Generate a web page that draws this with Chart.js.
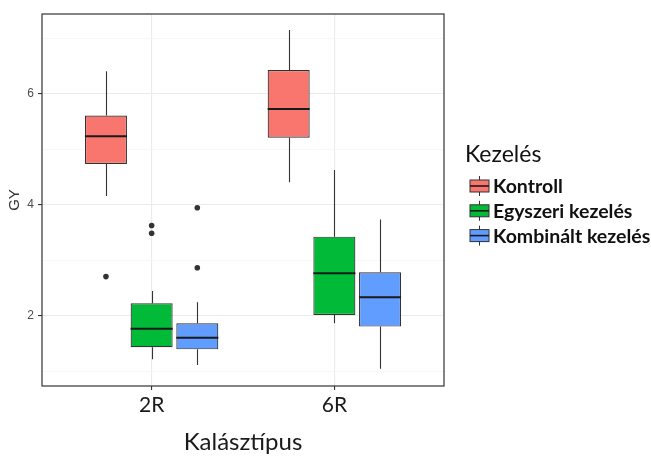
<!DOCTYPE html>
<html>
<head>
<meta charset="utf-8">
<script src="https://cdn.jsdelivr.net/npm/chart.js@4.4.0/dist/chart.umd.min.js"></script>
<style>
  html, body { margin: 0; padding: 0; background: #fff; }
  #wrap { width: 651px; height: 459px; }
</style>
</head>
<body>
<div id="wrap"><canvas id="chart" width="651" height="459"></canvas></div>
<script>
// categories and groups
var categories = ["2R", "6R"];
var groups = ["Kontroll", "Egyszeri kezelés", "Kombinált kezelés"];
var colors = ["#F8766D", "#00BA38", "#619CFF"];

// box statistics per group, one value per category
var kontrollMin = [4.16, 4.41];
var kontrollQ1 = [4.74, 5.21];
var kontrollMedian = [5.24, 5.73];
var kontrollQ3 = [5.61, 6.43];
var kontrollMax = [6.41, 7.15];
var kontrollOutliers = [[2.71], []];

var egyszeriMin = [1.22, 1.87];
var egyszeriQ1 = [1.44, 2.02];
var egyszeriMedian = [1.77, 2.77];
var egyszeriQ3 = [2.23, 3.43];
var egyszeriMax = [2.45, 4.63];
var egyszeriOutliers = [[3.63, 3.49], []];

var kombinaltMin = [1.12, 1.05];
var kombinaltQ1 = [1.40, 1.81];
var kombinaltMedian = [1.61, 2.34];
var kombinaltQ3 = [1.87, 2.79];
var kombinaltMax = [2.25, 3.74];
var kombinaltOutliers = [[3.95, 2.87], []];

// axis ticks
var majorTicks = [2, 4, 6];
var minorTicks = [1, 3, 5, 7];
var yMin = 0.74, yMax = 7.44;

var xTitle = "Kalásztípus";
var yTitle = "GY";
var legendTitle = "Kezelés";

var stats = [
    {min: kontrollMin, q1: kontrollQ1, med: kontrollMedian, q3: kontrollQ3, max: kontrollMax, out: kontrollOutliers},
    {min: egyszeriMin, q1: egyszeriQ1, med: egyszeriMedian, q3: egyszeriQ3, max: egyszeriMax, out: egyszeriOutliers},
    {min: kombinaltMin, q1: kombinaltQ1, med: kombinaltMedian, q3: kombinaltQ3, max: kombinaltMax, out: kombinaltOutliers}
];

var datasets = groups.map(function(g, i) {
    return {
        label: g,
        data: categories.map(function(c, j) {
            return {x: j + 1, y: [stats[i].q1[j], stats[i].q3[j]]};
        }),
        backgroundColor: colors[i],
        borderColor: "#333333",
        borderWidth: 1.2,
        borderSkipped: false,
        categoryPercentage: 0.75,
        barPercentage: 0.92
    };
});

// whiskers, medians, outliers, panel border
var boxExtras = {
    id: "boxExtras",
    beforeDatasetsDraw: function(chart) {
        var ctx = chart.ctx, y = chart.scales.y;
        ctx.save();
        ctx.strokeStyle = "#333333";
        ctx.lineWidth = 1.1;
        groups.forEach(function(g, i) {
            chart.getDatasetMeta(i).data.forEach(function(bar, j) {
                var x = Math.round(bar.x) + 0.5;
                ctx.beginPath();
                ctx.moveTo(x, y.getPixelForValue(stats[i].q3[j]));
                ctx.lineTo(x, y.getPixelForValue(stats[i].max[j]));
                ctx.moveTo(x, y.getPixelForValue(stats[i].q1[j]));
                ctx.lineTo(x, y.getPixelForValue(stats[i].min[j]));
                ctx.stroke();
            });
        });
        ctx.restore();
    },
    afterDatasetsDraw: function(chart) {
        var ctx = chart.ctx, y = chart.scales.y, a = chart.chartArea;
        ctx.save();
        groups.forEach(function(g, i) {
            chart.getDatasetMeta(i).data.forEach(function(bar, j) {
                var yy = y.getPixelForValue(stats[i].med[j]);
                ctx.strokeStyle = "#1a1a1a";
                ctx.lineWidth = 2;
                ctx.beginPath();
                ctx.moveTo(bar.x - bar.width / 2, yy);
                ctx.lineTo(bar.x + bar.width / 2, yy);
                ctx.stroke();
                ctx.fillStyle = "#333333";
                stats[i].out[j].forEach(function(v) {
                    ctx.beginPath();
                    ctx.arc(bar.x, y.getPixelForValue(v), 2.8, 0, Math.PI * 2);
                    ctx.fill();
                });
            });
        });
        ctx.strokeStyle = "#333333";
        ctx.lineWidth = 1.2;
        ctx.strokeRect(a.left, a.top, a.right - a.left, a.bottom - a.top);
        ctx.restore();
    },
    afterDraw: function(chart) {
        var ctx = chart.ctx, a = chart.chartArea;
        var lx = a.right + 21;
        ctx.save();
        ctx.fillStyle = "#111";
        ctx.textBaseline = "alphabetic";
        ctx.font = "23px Lato";
        ctx.fillText(legendTitle, lx, 162);
        groups.forEach(function(g, i) {
            var cy = 186 + i * 24.8;
            var kx = lx + 5, kw = 19;
            ctx.strokeStyle = "#333333";
            ctx.lineWidth = 1;
            ctx.beginPath();
            ctx.moveTo(kx + kw / 2, cy - 10);
            ctx.lineTo(kx + kw / 2, cy + 10);
            ctx.stroke();
            ctx.fillStyle = colors[i];
            ctx.fillRect(kx, cy - 6, kw, 12);
            ctx.strokeRect(kx, cy - 6, kw, 12);
            ctx.strokeStyle = "#1a1a1a";
            ctx.lineWidth = 1.6;
            ctx.beginPath();
            ctx.moveTo(kx, cy);
            ctx.lineTo(kx + kw, cy);
            ctx.stroke();
            ctx.fillStyle = "#111";
            ctx.font = "bold 19.5px Lato";
            ctx.textBaseline = "middle";
            ctx.fillText(g, kx + kw + 4, cy + 1);
        });
        ctx.restore();
    }
};

var chart = new Chart(document.getElementById("chart"), {
    type: "bar",
    data: {datasets: datasets},
    plugins: [boxExtras],
    options: {
        responsive: false,
        animation: false,
        layout: {padding: {top: 14, right: 207, left: 0, bottom: 0}},
        plugins: {legend: {display: false}, tooltip: {enabled: false}},
        scales: {
            x: {
                type: "linear",
                min: 0.4,
                max: 2.6,
                offset: false,
                afterBuildTicks: function(scale) {
                    scale.ticks = categories.map(function(c, j) { return {value: j + 1}; });
                },
                afterFit: function(scale) { scale.height = 73; },
                ticks: {
                    callback: function(v) { return categories[v - 1]; },
                    color: "#1a1a1a",
                    font: {family: "Lato", size: 21},
                    padding: 3,
                    maxRotation: 0
                },
                grid: {
                    offset: false,
                    color: "#ebebeb",
                    lineWidth: 1.1,
                    tickColor: "#333333",
                    tickLength: 4
                },
                border: {display: false},
                title: {
                    display: true,
                    text: xTitle,
                    color: "#1a1a1a",
                    font: {family: "Lato", size: 24},
                    padding: {top: 0, bottom: 2}
                }
            },
            y: {
                min: yMin,
                max: yMax,
                afterBuildTicks: function(scale) {
                    scale.ticks = minorTicks.concat(majorTicks).sort().map(function(v) { return {value: v}; });
                },
                afterFit: function(scale) { scale.width = 42; },
                ticks: {
                    callback: function(v) { return majorTicks.indexOf(v) >= 0 ? String(v) : ""; },
                    color: "#4d4d4d",
                    font: {family: "Liberation Sans", size: 12},
                    padding: 4
                },
                grid: {
                    color: function(c) { return majorTicks.indexOf(c.tick.value) >= 0 ? "#ebebeb" : "#f4f4f4"; },
                    lineWidth: function(c) { return majorTicks.indexOf(c.tick.value) >= 0 ? 1.1 : 0.7; },
                    tickColor: function(c) { return majorTicks.indexOf(c.tick.value) >= 0 ? "#333333" : "rgba(0,0,0,0)"; },
                    tickLength: 4
                },
                border: {display: false},
                title: {
                    display: true,
                    text: yTitle,
                    color: "#333333",
                    font: {family: "Liberation Sans", size: 15},
                    padding: {top: 6, bottom: 0}
                }
            }
        }
    }
});
</script>
</body>
</html>
